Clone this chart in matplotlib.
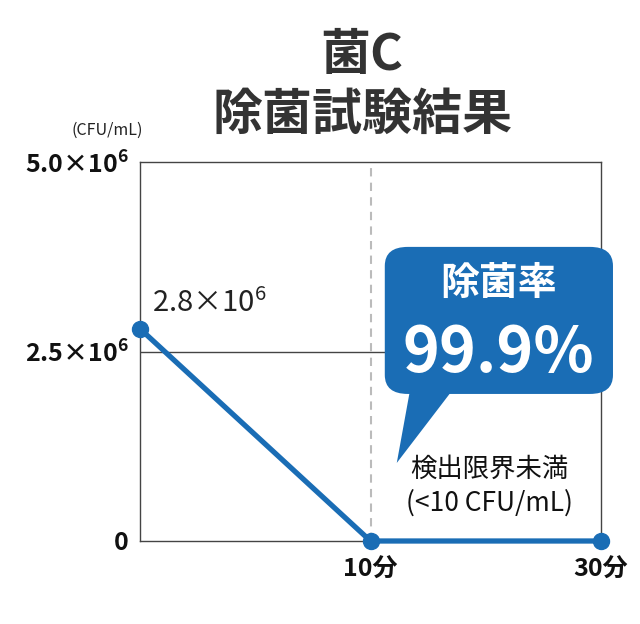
import matplotlib.pyplot as plt
from matplotlib.patches import FancyBboxPatch, Polygon

plt.rcParams['font.family'] = ['Noto Sans CJK JP', 'DejaVu Sans']
plt.rcParams['mathtext.fontset'] = 'custom'
plt.rcParams['mathtext.rm'] = 'Noto Sans CJK JP'
plt.rcParams['mathtext.bf'] = 'Noto Sans CJK JP:bold'

# データ
times = ["0", "10分", "30分"]
counts = [2.8e6, 0, 0]
ytick_vals = [0, 2.5e6, 5.0e6]
ytick_labels = ["0", r"$\mathbf{2.5×10^6}$", r"$\mathbf{5.0×10^6}$"]

blue = "#1a6db5"
dark = "#333333"

fig = plt.figure(figsize=(6.4, 6.24), dpi=100)
ax = fig.add_axes([140/640, 1-541/624, 461/640, 379/624])

x = range(len(times))
ax.axhline(ytick_vals[1], color="#444444", lw=1.0, zorder=1)
ax.axvline(1, color="#bbbbbb", lw=1.5, ls=(0, (4, 3)), zorder=1)
ax.plot(x, counts, color=blue, lw=3.8, marker="o", ms=11.5, clip_on=False, zorder=5)

ax.set_xlim(0, 2)
ax.set_ylim(0, 5e6)
ax.set_xticks(list(x))
ax.set_xticklabels(["", times[1], times[2]], fontsize=18, fontweight="bold", color="#111111")
ax.set_yticks(ytick_vals)
ax.set_yticklabels(ytick_labels, fontsize=18, color="#111111")
for lbl in ax.get_yticklabels():
    lbl.set_fontweight("bold")
ax.tick_params(axis="y", length=0, pad=8)
ax.tick_params(axis="x", length=0, pad=12)
for s in ax.spines.values():
    s.set_color("#444444")
    s.set_linewidth(1.0)

# 初期値ラベル
ax.annotate(r"$\mathrm{2.8×10^6}$", (0, counts[0]), xytext=(9, 7), textcoords="offset points",
            fontsize=21, color="#222222", ha="left", va="bottom")

# 吹き出し
box = FancyBboxPatch((0.531, 0.388), 0.495, 0.388, boxstyle="round,pad=0,rounding_size=0.05",
                     transform=ax.transAxes, fc=blue, ec="none", clip_on=False, zorder=6)
ax.add_patch(box)
tail = Polygon([(0.586, 0.40), (0.679, 0.40), (0.557, 0.206)], closed=True,
               transform=ax.transAxes, fc=blue, ec="none", clip_on=False, zorder=6)
ax.add_patch(tail)
ax.text(0.777, 0.68, "除菌率", transform=ax.transAxes, ha="center", va="center",
        fontsize=28, fontweight="bold", color="white", zorder=7)
ax.text(0.777, 0.495, "99.9%", transform=ax.transAxes, ha="center", va="center",
        fontsize=45, fontweight="bold", color="white", zorder=7)

ax.text(0.757, 0.19, "検出限界未満", transform=ax.transAxes, ha="center", va="center",
        fontsize=19, color="#111111")
ax.text(0.757, 0.10, "(<10 CFU/mL)", transform=ax.transAxes, ha="center", va="center",
        fontsize=19, color="#111111")

fig.text(362/640, 1-55/624, "菌C", ha="center", va="center", fontsize=36,
         fontweight="bold", color=dark)
fig.text(362/640, 1-115/624, "除菌試験結果", ha="center", va="center", fontsize=36,
         fontweight="bold", color=dark)
fig.text(107/640, 1-130/624, "(CFU/mL)", ha="center", va="center", fontsize=11.5,
         color="#222222")

fig.savefig("out.png", dpi=100)
